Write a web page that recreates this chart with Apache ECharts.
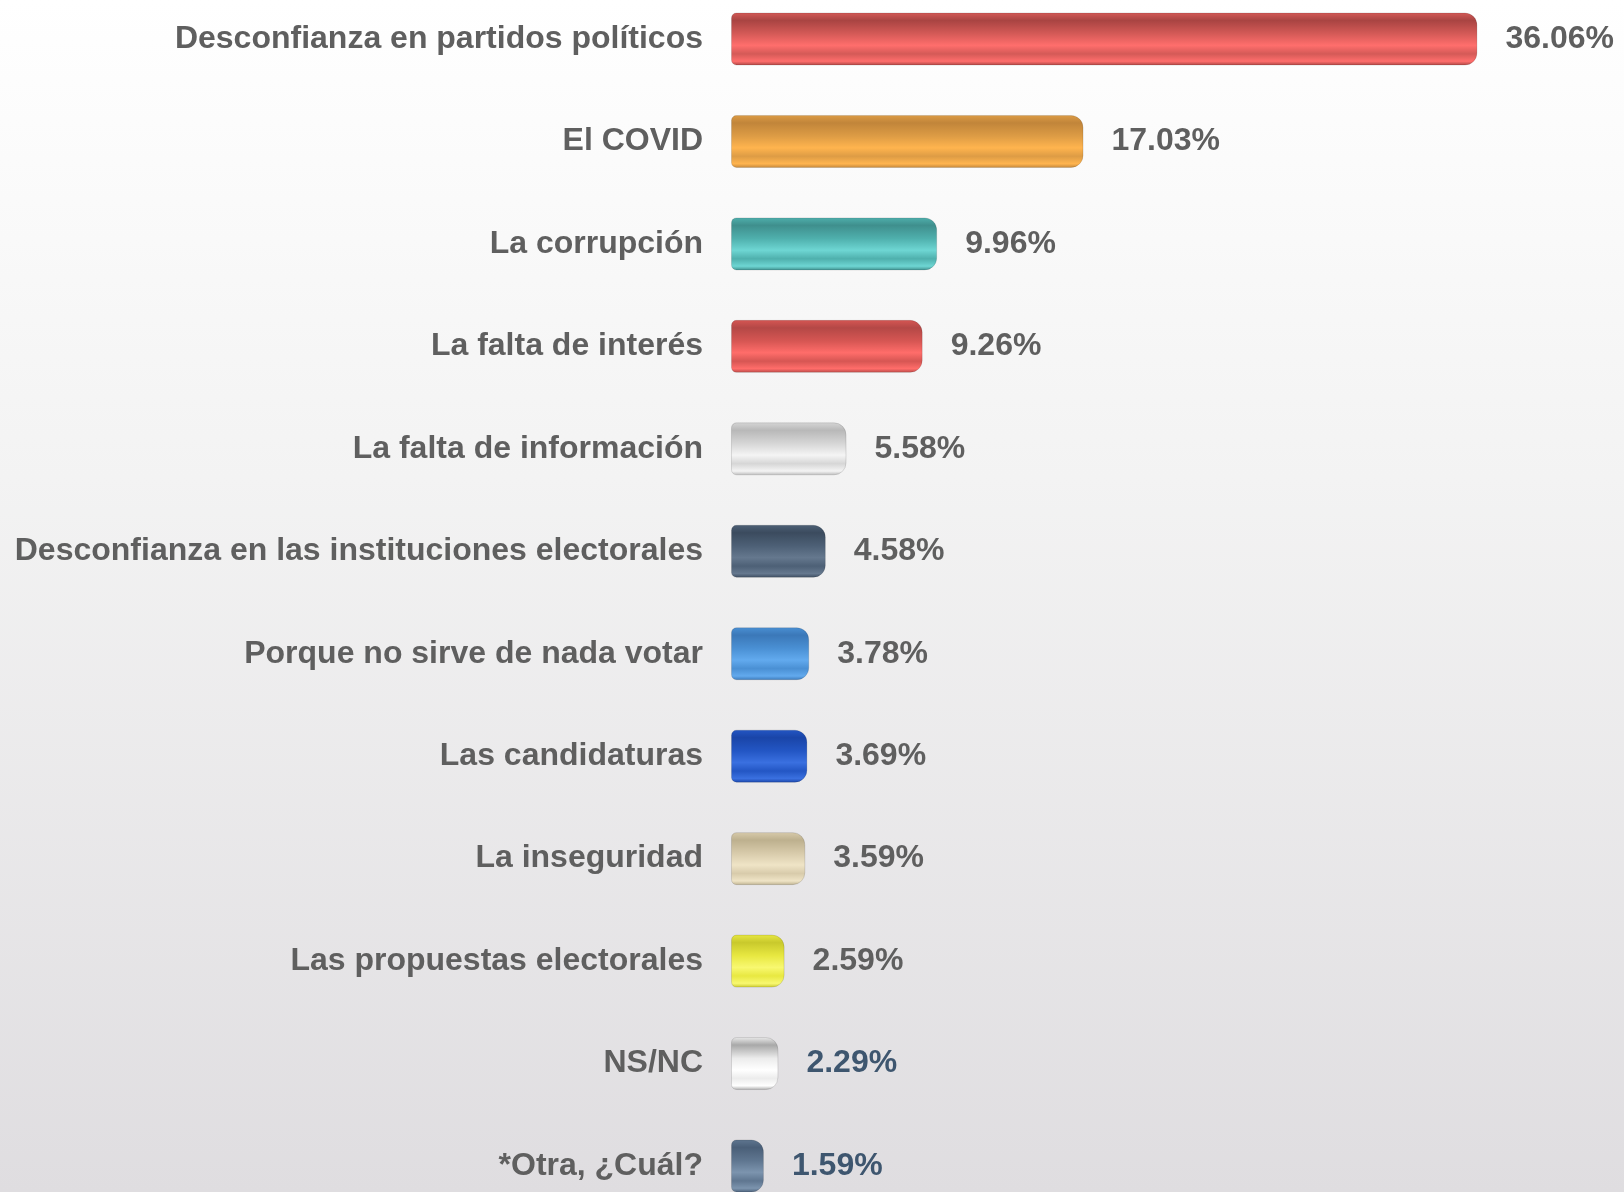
<!DOCTYPE html>
<html>
<head>
<meta charset="utf-8">
<script src="https://cdn.jsdelivr.net/npm/echarts@6/dist/echarts.min.js"></script>
<style>
  html, body { margin: 0; padding: 0; }
  body { background: linear-gradient(to bottom, #ffffff 0%, #f3f3f3 40%, #dfdde0 100%); }
  #chart { width: 1624px; height: 1192px; }
</style>
</head>
<body>
<div id="chart"></div>
<script>
// motivos de abstencion
var categories = [
  'Desconfianza en partidos políticos',
  'El COVID',
  'La corrupción',
  'La falta de interés',
  'La falta de información',
  'Desconfianza en las instituciones electorales',
  'Porque no sirve de nada votar',
  'Las candidaturas',
  'La inseguridad',
  'Las propuestas electorales',
  'NS/NC',
  '*Otra, ¿Cuál?'
];
var values = [36.06, 17.03, 9.96, 9.26, 5.58, 4.58, 3.78, 3.69, 3.59, 2.59, 2.29, 1.59];
// colores de cada barra: oscuro, base, claro
var barColors = [
  ['#a94442', '#d45a57', '#ff6e6c'],
  ['#c1853a', '#dd9c45', '#ffb44e'],
  ['#3f8f8d', '#4fb0ad', '#6ed6d3'],
  ['#b44846', '#d65653', '#ff6d6a'],
  ['#b8b8b8', '#d6d6d6', '#f4f4f4'],
  ['#3b4b5e', '#4d6076', '#65788e'],
  ['#3b78b8', '#4a90d4', '#62aaee'],
  ['#1a45a8', '#2356c4', '#3a70e0'],
  ['#bdb08e', '#d8cbab', '#efe4c6'],
  ['#c9c92c', '#e8e841', '#f8f870'],
  ['#a8a8a8', '#ececec', '#ffffff'],
  ['#4a5f78', '#5f7690', '#7c94ae']
];
var valueColors = ['#5f5f5f', '#5f5f5f', '#5f5f5f', '#5f5f5f', '#5f5f5f', '#5f5f5f',
  '#5f5f5f', '#5f5f5f', '#5f5f5f', '#5f5f5f', '#3e566f', '#3e566f'];

function cylinder(c) {
  return new echarts.graphic.LinearGradient(0, 0, 0, 1, [
    { offset: 0, color: c[1] },
    { offset: 0.15, color: c[0] },
    { offset: 0.4, color: c[1] },
    { offset: 0.62, color: c[2] },
    { offset: 0.78, color: c[1] },
    { offset: 0.92, color: c[2] },
    { offset: 1, color: c[0] }
  ]);
}

var seriesData = values.map(function (v, i) {
  return {
    value: v,
    itemStyle: { color: cylinder(barColors[i]) },
    label: { color: valueColors[i] }
  };
});

var myChart = echarts.init(document.getElementById('chart'));
myChart.setOption({
  animation: false,
  backgroundColor: 'transparent',
  grid: {
    left: 731,
    right: 65,
    top: 39,
    bottom: 26
  },
  xAxis: {
    type: 'value',
    min: 0,
    max: 40,
    show: false
  },
  yAxis: {
    type: 'category',
    data: categories,
    inverse: true,
    boundaryGap: false,
    axisLine: { show: false },
    axisTick: { show: false },
    splitLine: { show: false },
    axisLabel: {
      margin: 28,
      color: '#5f5f5f',
      fontFamily: 'Liberation Sans',
      fontWeight: 'bold',
      fontSize: 32
    }
  },
  series: [
    {
      type: 'bar',
      barWidth: 53,
      data: seriesData,
      itemStyle: {
        borderRadius: [5, 12, 12, 5],
        borderColor: 'rgba(0,0,0,0.12)',
        borderWidth: 1
      },
      label: {
        show: true,
        position: 'right',
        distance: 28,
        fontFamily: 'Liberation Sans',
        fontWeight: 'bold',
        fontSize: 32,
        formatter: function (p) { return p.value.toFixed(2) + '%'; }
      }
    }
  ]
});
</script>
</body>
</html>
